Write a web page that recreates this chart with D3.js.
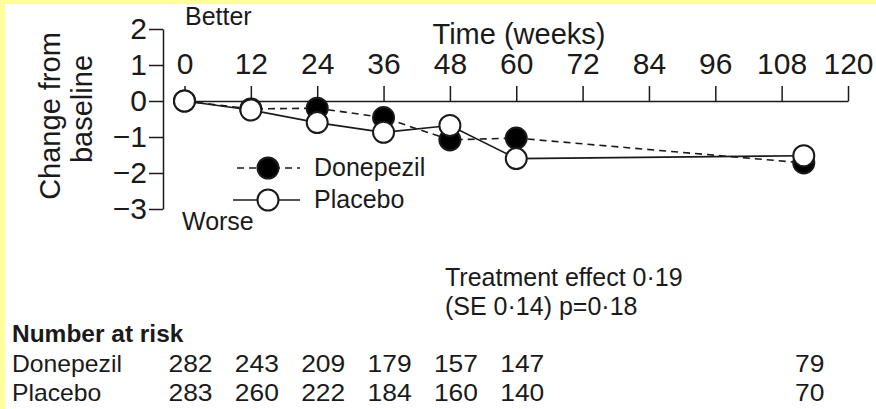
<!DOCTYPE html>
<html>
<head>
<meta charset="utf-8">
<script src="https://cdn.jsdelivr.net/npm/d3@7"></script>
<style>
  body { margin: 0; background: #fff; }
  svg { display: block; font-family: "Liberation Sans", Arial, sans-serif; }
</style>
</head>
<body>
<div id="chart"></div>
<script>
// Mean change from baseline per visit
const weeks = [0, 12, 24, 36, 48, 60, 112];
const donepezil = [0, -0.22, -0.2, -0.46, -1.08, -1.03, -1.72];
const placebo = [0, -0.25, -0.6, -0.87, -0.68, -1.6, -1.52];

const xTicks = [0, 12, 24, 36, 48, 60, 72, 84, 96, 108, 120];
const yTicks = [2, 1, 0, -1, -2, -3];

// Number at risk table
const riskWeeks = [0, 12, 24, 36, 48, 60, 112];
const riskDonepezil = [282, 243, 209, 179, 157, 147, 79];
const riskPlacebo = [283, 260, 222, 184, 160, 140, 70];

const width = 876;
const height = 409;
const ink = "#1a1a1a";

const svg = d3
  .select("#chart")
  .append("svg")
  .attr("width", width)
  .attr("height", height);

// yellow frame on top and left
svg.append("rect").attr("x", 0).attr("y", 0).attr("width", width).attr("height", 4).attr("fill", "#ffff99");
svg.append("rect").attr("x", 0).attr("y", 0).attr("width", 5).attr("height", height).attr("fill", "#ffff99");

const xScale = d3.scaleLinear().domain([0, 120]).range([184.5, 848]);
const yScale = d3.scaleLinear().domain([-3, 2]).range([209, 29]);

/**
 * Text with an optional horizontal stretch (the table digits are a bit wide)
 */
function wideText(parent, x, y, str, size, sx, anchor) {
  return parent
    .append("text")
    .attr("transform", `translate(${x},${y}) scale(${sx},1)`)
    .attr("text-anchor", anchor || "start")
    .style("font-size", size + "px")
    .attr("fill", ink)
    .text(str);
}

// y axis
const yAxis = d3
  .axisLeft(yScale)
  .tickValues(yTicks)
  .tickFormat(d3.format("d"))
  .tickSize(14)
  .tickSizeOuter(0)
  .tickPadding(2);

const gy = svg
  .append("g")
  .attr("transform", "translate(163,0)")
  .call(yAxis);
gy.selectAll("path, line").attr("stroke", ink).attr("stroke-width", 1.5);
gy.selectAll("text")
  .attr("fill", ink)
  .style("font-size", "30px")
  .style("font-family", "Liberation Sans, Arial, sans-serif");

// x axis sits on the zero line, ticks pointing up
const xAxis = d3
  .axisTop(xScale)
  .tickValues(xTicks)
  .tickSize(15)
  .tickSizeOuter(0)
  .tickPadding(12);

const gx = svg
  .append("g")
  .attr("transform", `translate(0,${yScale(0)})`)
  .call(xAxis);
gx.selectAll("path, line").attr("stroke", ink).attr("stroke-width", 1.5);
gx.selectAll("text")
  .attr("fill", ink)
  .style("font-size", "30px")
  .style("font-family", "Liberation Sans, Arial, sans-serif");

// titles
svg.append("text")
  .attr("x", 519).attr("y", 44)
  .attr("text-anchor", "middle")
  .style("font-size", "29px")
  .attr("fill", ink)
  .text("Time (weeks)");

const yTitle = svg.append("text")
  .attr("transform", "rotate(-90)")
  .attr("text-anchor", "middle")
  .style("font-size", "29px")
  .attr("fill", ink);
yTitle.append("tspan").attr("x", -116).attr("y", 60).text("Change from");
yTitle.append("tspan").attr("x", -109).attr("y", 92).text("baseline");

svg.append("text").attr("x", 185).attr("y", 25).style("font-size", "25px").attr("fill", ink).text("Better");
svg.append("text").attr("x", 182).attr("y", 230).style("font-size", "25px").attr("fill", ink).text("Worse");

// series
const series = [
  { name: "Donepezil", values: donepezil, fill: "#000", dash: "7,5" },
  { name: "Placebo", values: placebo, fill: "#fff", dash: null },
];

const line = d3
  .line()
  .x((d) => xScale(d.week))
  .y((d) => yScale(d.value));

const radius = 10.5;

series.forEach((s) => {
  const pts = weeks.map((w, i) => ({ week: w, value: s.values[i] }));
  svg.append("path")
    .datum(pts)
    .attr("d", line)
    .attr("fill", "none")
    .attr("stroke", ink)
    .attr("stroke-width", 1.6)
    .attr("stroke-dasharray", s.dash);

  svg.append("g")
    .selectAll("circle")
    .data(pts)
    .enter()
    .append("circle")
    .attr("cx", (d) => xScale(d.week))
    .attr("cy", (d) => yScale(d.value))
    .attr("r", radius)
    .attr("fill", s.fill)
    .attr("stroke", ink)
    .attr("stroke-width", 2);
});

// legend
const legend = svg
  .append("g")
  .selectAll("g")
  .data(series)
  .enter()
  .append("g")
  .attr("transform", (d, i) => `translate(268,${168 + i * 32})`);

legend.append("line")
  .attr("x1", (d) => (d.dash ? -31 : -35))
  .attr("x2", 32)
  .attr("stroke", ink)
  .attr("stroke-width", 1.6)
  .attr("stroke-dasharray", (d) => d.dash);
legend.append("circle")
  .attr("r", radius)
  .attr("fill", (d) => d.fill)
  .attr("stroke", ink)
  .attr("stroke-width", 2);
legend.append("text")
  .attr("x", 46)
  .attr("y", 8)
  .style("font-size", "25px")
  .attr("fill", ink)
  .text((d) => d.name);

// treatment effect note
wideText(svg, 445, 286, "Treatment effect 0·19", 25, 1.0);
wideText(svg, 445, 315, "(SE 0·14) p=0·18", 25, 1.0);

// number at risk
wideText(svg, 12, 342, "Number at risk", 24, 1.02).style("font-weight", "bold");

const riskRows = [
  { name: "Donepezil", counts: riskDonepezil, y: 372 },
  { name: "Placebo", counts: riskPlacebo, y: 401 },
];

riskRows.forEach((r) => {
  wideText(svg, 12, r.y, r.name, 24, 1.03);
  r.counts.forEach((c, i) => {
    wideText(svg, xScale(riskWeeks[i]) + 6, r.y, c, 24, 1.1, "middle");
  });
});
</script>
</body>
</html>
